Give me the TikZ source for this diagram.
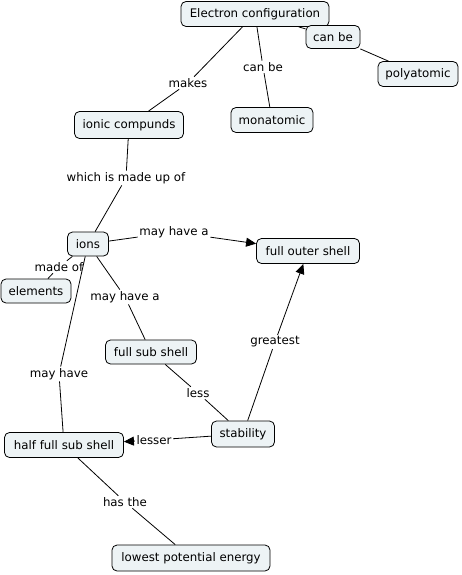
\documentclass[tikz,border=0pt]{standalone}
\usepackage{fontspec}
\setmainfont{DejaVu Sans}
\usetikzlibrary{arrows.meta}
\definecolor{cfill}{RGB}{237,243,245}
\begin{document}
\begin{tikzpicture}[x=1pt,y=-1pt,
  concept/.style={draw=black,fill=cfill,rounded corners=5pt,line width=0.8pt,minimum height=25pt,inner sep=2pt,font=\fontsize{11.8}{13}\selectfont},
  link/.style={fill=white,inner sep=1.5pt,font=\fontsize{11.8}{13}\selectfont},
  conn/.style={draw=black,line width=0.8pt},
  arr/.style={conn,-{Triangle[length=10pt,width=9pt]}}]
\path[use as bounding box,fill=white] (0,0) rectangle (461,575);
% concepts
\node[concept,minimum width=148pt] (ec) at (255,14) {Electron configuration};
\node[concept,minimum width=54pt,minimum height=23pt] (canbe2) at (333,37) {can be};
\node[concept,minimum width=80pt] (poly) at (418,74) {polyatomic};
\node[concept,minimum width=82pt] (mono) at (272,120) {monatomic};
\node[concept,minimum width=109pt,minimum height=27pt] (ionic) at (129,125) {ionic compunds};
\node[concept,minimum width=41pt,minimum height=24pt] (ions) at (88,244) {ions};
\node[concept,minimum width=103pt] (fos) at (308,251) {full outer shell};
\node[concept,minimum width=70pt,minimum height=24pt] (elem) at (36,291) {elements};
\node[concept,minimum width=91pt,minimum height=24pt] (fss) at (151,352) {full sub shell};
\node[concept,minimum width=63pt,minimum height=26pt] (stab) at (243,434) {stability};
\node[concept,minimum width=119pt] (hfss) at (64,445) {half full sub shell};
\node[concept,minimum width=158pt,minimum height=26pt] (lpe) at (191,558) {lowest potential energy};
% linking phrases
\node[link] (makes) at (188,83) {makes};
\node[link] (canbe1) at (263,67) {can be};
\node[link] (wimu) at (126,178) {which is made up of};
\node[link] (mha1) at (174,232) {may have a};
\node[link] (madeof) at (59,267) {made of};
\node[link] (mha2) at (125,297) {may have a};
\node[link] (greatest) at (275,342) {greatest};
\node[link] (mh) at (59,374) {may have};
\node[link] (less) at (198,393) {less};
\node[link] (lesser) at (154,440) {lesser};
\node[link] (hasthe) at (125,502) {has the};
% connectors
\draw[conn] (ec) -- (makes);
\draw[conn] (makes) -- (ionic);
\draw[conn] (ec) -- (canbe1);
\draw[conn] (canbe1) -- (mono);
\draw[conn] (ec) -- (canbe2);
\draw[conn] (canbe2) -- (poly);
\draw[conn] (ionic) -- (wimu);
\draw[conn] (wimu) -- (ions);
\draw[conn] (ions) -- (mha1);
\draw[arr] (mha1) -- (fos);
\draw[conn] (ions) -- (madeof);
\draw[conn] (madeof) -- (elem);
\draw[conn] (ions) -- (mha2);
\draw[conn] (mha2) -- (fss);
\draw[conn] (ions) -- (mh);
\draw[conn] (mh) -- (hfss);
\draw[conn] (stab) -- (greatest);
\draw[arr] (greatest) -- (fos);
\draw[conn] (stab) -- (less);
\draw[conn] (less) -- (fss);
\draw[conn] (stab) -- (lesser);
\draw[arr] (lesser) -- (hfss);
\draw[conn] (hfss) -- (hasthe);
\draw[conn] (hasthe) -- (lpe);
\end{tikzpicture}
\end{document}
